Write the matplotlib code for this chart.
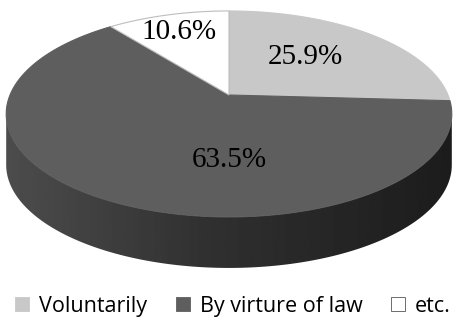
import numpy as np
import matplotlib
matplotlib.use("Agg")
import matplotlib.pyplot as plt
from matplotlib.patches import Polygon, Patch

# --- data ---
labels = ["Voluntarily", "By virture of law", "etc."]
shares = [25.9, 63.5, 10.6]
top_colors = ["#c8c8c8", "#5e5e5e", "#ffffff"]
edge_colors = ["#c8c8c8", "#5e5e5e", "#bdbdbd"]

# where each percentage sits: (clockwise angle from 12 o'clock, radius fraction)
label_spots = [(42, 0.56), (180, 0.58), (340, 0.76)]

# --- pie geometry in pixel space (y grows downwards) ---
cx, cy = 229.0, 95.0     # projected pie centre
A, B = 219.0, 99.5       # horizontal / depth scale of the disk
k = 0.184                # perspective factor (back of disk is smaller)
depth = 51.0             # thickness of the side wall


def proj(theta, r=1.0):
    """clockwise angle (deg, 0 = top) on the disk -> screen pixels"""
    t = np.radians(theta)
    u = r * np.sin(t)
    v = r * np.cos(t)
    w = 1 + k * v
    return cx + A * u / w, cy - B * v / w


fig = plt.figure(figsize=(4.57, 3.2), dpi=100)
ax = fig.add_axes([0, 0, 1, 1])
ax.set_xlim(0, 457)
ax.set_ylim(320, 0)
ax.axis("off")

# side wall: visible front arc between the two silhouette tangents
t0 = np.degrees(np.arccos(-k))
arc = np.linspace(t0, 360 - t0, 200)
ex, ey = proj(arc)
side_x = np.concatenate([ex, ex[::-1]])
side_y = np.concatenate([ey, ey[::-1] + depth])
side = Polygon(np.column_stack([side_x, side_y]), closed=True,
               facecolor="none", edgecolor="none")
ax.add_patch(side)

# horizontal shading of the wall, lighter on the left
grad = np.interp(np.linspace(0, 1, 300), [0, 0.45, 1], [0.30, 0.19, 0.11])
img = np.tile(grad, (10, 1))
im = ax.imshow(img, cmap="gray", vmin=0, vmax=1, aspect="auto",
               extent=[side_x.min(), side_x.max(), side_y.max(), side_y.min()],
               interpolation="bilinear", zorder=1)
im.set_clip_path(side)

# top face wedges, clockwise from 12 o'clock
start = 0.0
for share, fc, ec in zip(shares, top_colors, edge_colors):
    span = share / 100 * 360
    ang = np.linspace(start, start + span, 120)
    wx, wy = proj(ang)
    pts = np.column_stack([np.r_[cx, wx], np.r_[cy, wy]])
    ax.add_patch(Polygon(pts, closed=True, facecolor=fc, edgecolor=ec,
                         linewidth=0.8, zorder=2))
    start += span

# percentage labels
for share, (ang, rad) in zip(shares, label_spots):
    tx, ty = proj(ang, rad)
    ax.text(tx, ty, f"{share:.1f}%", ha="center", va="center",
            fontsize=21, family="Liberation Serif", color="black", zorder=3)

# legend along the bottom
handles = [Patch(facecolor=fc, edgecolor=fc if fc != "#ffffff" else "#555555",
                 linewidth=0.6)
           for fc in top_colors]
fig.legend(handles, labels, loc="lower center", ncol=3, frameon=False,
           bbox_to_anchor=(0.51, -0.05),
           prop={"family": "Open Sans", "size": 15.5},
           handlelength=0.65, handleheight=0.65, handletextpad=0.45,
           columnspacing=1.35)

fig.savefig("out.png", dpi=100)
